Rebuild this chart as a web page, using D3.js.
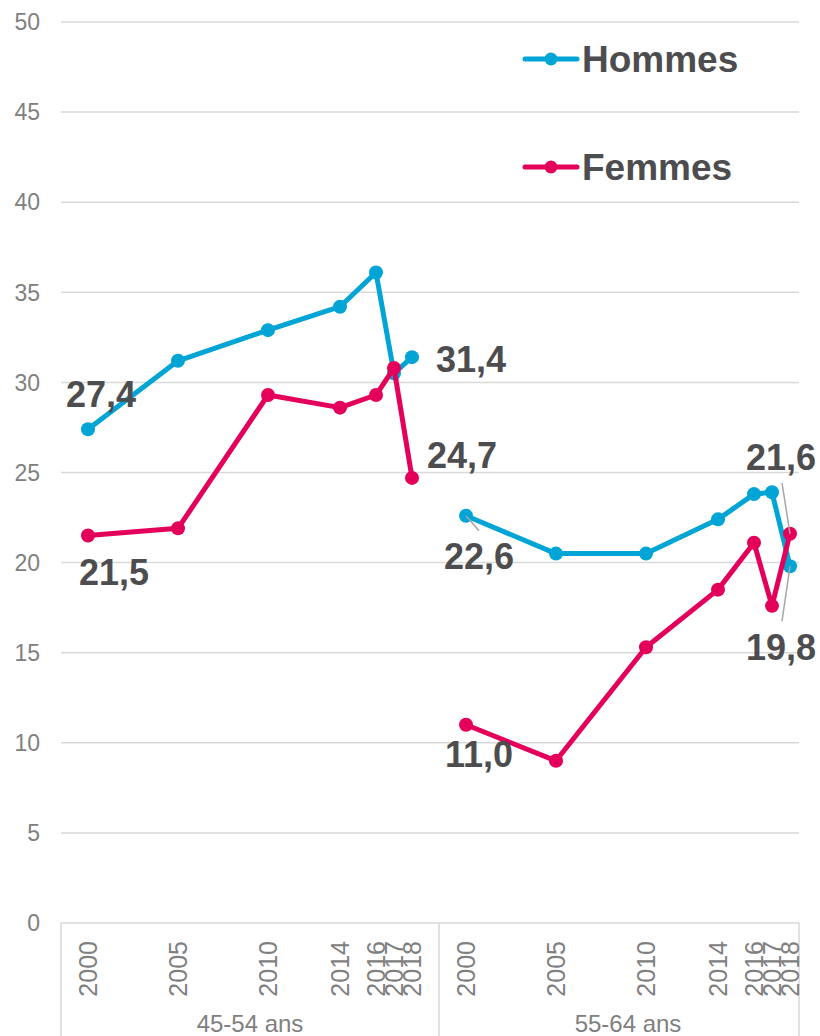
<!DOCTYPE html>
<html>
<head>
<meta charset="utf-8">
<script src="https://cdn.jsdelivr.net/npm/d3@7"></script>
<style>
  body { margin: 0; background: #fff; }
  text { font-family: "Liberation Sans", Arial, sans-serif; }
</style>
</head>
<body>
<div id="chart"></div>
<script>
// data
var years = [2000, 2005, 2010, 2014, 2016, 2017, 2018];
var groups = ["45-54 ans", "55-64 ans"];
var hommes4554 = [27.4, 31.2, 32.9, 34.2, 36.1, 30.5, 31.4];
var femmes4554 = [21.5, 21.9, 29.3, 28.6, 29.3, 30.8, 24.7];
var hommes5564 = [22.6, 20.5, 20.5, 22.4, 23.8, 23.9, 19.8];
var femmes5564 = [11.0, 9.0, 15.3, 18.5, 21.1, 17.6, 21.6];
var yTicks = [0, 5, 10, 15, 20, 25, 30, 35, 40, 45, 50];

var blue = "#00a5d6", pink = "#e4005a", grid = "#d9d9d9", txt = "#808080", dark = "#4d4d4f";

var width = 820, height = 1036;

var svg = d3.select("#chart")
  .append("svg")
    .attr("width", width)
    .attr("height", height);

// x: each group takes 21 "year slots", years are placed by their value
var pos = function(g, yr) { return g * 21 + (yr - 2000); };
var x = d3.scaleLinear()
  .domain([-1.5, 39.5])
  .range([61, 799]);

var y = d3.scaleLinear()
  .domain([0, 50])
  .range([923, 22]);

// gridlines + y labels
svg.append("g")
  .selectAll("line")
  .data(yTicks.filter(function(d) { return d > 0; }))
  .enter().append("line")
    .attr("x1", x(-1.5))
    .attr("x2", x(39.5))
    .attr("y1", function(d) { return y(d); })
    .attr("y2", function(d) { return y(d); })
    .attr("stroke", grid)
    .attr("stroke-width", 1.5);

svg.append("g")
  .selectAll("text")
  .data(yTicks)
  .enter().append("text")
    .attr("x", 40)
    .attr("y", function(d) { return y(d); })
    .attr("dy", "0.36em")
    .attr("text-anchor", "end")
    .attr("font-size", 23)
    .attr("fill", txt)
    .text(function(d) { return d; });

// x axis line and group separators
svg.append("line")
  .attr("x1", x(-1.5)).attr("x2", x(39.5))
  .attr("y1", y(0)).attr("y2", y(0))
  .attr("stroke", grid).attr("stroke-width", 1.5);

svg.append("g")
  .selectAll("line")
  .data([-1.5, 19.5, 39.5])
  .enter().append("line")
    .attr("x1", function(d) { return x(d); })
    .attr("x2", function(d) { return x(d); })
    .attr("y1", y(0))
    .attr("y2", height)
    .attr("stroke", grid)
    .attr("stroke-width", 1.5);

// year labels (rotated) and group labels
groups.forEach(function(grp, g) {
  svg.append("g")
    .selectAll("text")
    .data(years)
    .enter().append("text")
      .attr("transform", function(d) { return "translate(" + x(pos(g, d)) + ",941) rotate(-90)"; })
      .attr("dy", "0.36em")
      .attr("text-anchor", "end")
      .attr("font-size", 25)
      .attr("fill", txt)
      .text(function(d) { return d; });

  svg.append("text")
    .attr("x", (x(g * 21 - 1.5) + x(g * 21 + 19.5)) / 2)
    .attr("y", 1032)
    .attr("text-anchor", "middle")
    .attr("font-size", 24)
    .attr("fill", txt)
    .text(grp);
});

// series
var series = [
  {g: 0, vals: hommes4554, color: blue},
  {g: 1, vals: hommes5564, color: blue},
  {g: 0, vals: femmes4554, color: pink},
  {g: 1, vals: femmes5564, color: pink}
];

var line = d3.line()
  .x(function(d) { return x(d.p); })
  .y(function(d) { return y(d.v); });

series.forEach(function(s) {
  var pts = years.map(function(yr, i) { return {p: pos(s.g, yr), v: s.vals[i]}; });
  svg.append("path")
    .datum(pts)
    .attr("fill", "none")
    .attr("stroke", s.color)
    .attr("stroke-width", 5)
    .attr("stroke-linejoin", "round")
    .attr("d", line);
  svg.append("g")
    .selectAll("circle")
    .data(pts)
    .enter().append("circle")
      .attr("cx", function(d) { return x(d.p); })
      .attr("cy", function(d) { return y(d.v); })
      .attr("r", 7)
      .attr("fill", s.color);
});

// data labels: first and last point of each series, offset from the dot
var labels = [
  {g: 0, vals: hommes4554, i: 0, dx: -22, dy: -22},
  {g: 0, vals: femmes4554, i: 0, dx: -9, dy: 49},
  {g: 0, vals: hommes4554, i: 6, dx: 24, dy: 15},
  {g: 0, vals: femmes4554, i: 6, dx: 15, dy: -10},
  {g: 1, vals: hommes5564, i: 0, dx: -22, dy: 53, lead: [13, 15]},
  {g: 1, vals: femmes5564, i: 0, dx: -21, dy: 42},
  {g: 1, vals: hommes5564, i: 6, dx: -44, dy: 94, lead: [-8, 55]},
  {g: 1, vals: femmes5564, i: 6, dx: -44, dy: -64, lead: [-8, -51]}
];

var fmt = function(v) { return d3.format(".1f")(v).replace(".", ","); };

labels.forEach(function(l) {
  var cx = x(pos(l.g, years[l.i])), cy = y(l.vals[l.i]);
  if (l.lead) {
    svg.append("line")
      .attr("x1", cx).attr("y1", cy)
      .attr("x2", cx + l.lead[0]).attr("y2", cy + l.lead[1])
      .attr("stroke", "#a6a6a6")
      .attr("stroke-width", 1.5);
  }
  svg.append("text")
    .attr("x", cx + l.dx)
    .attr("y", cy + l.dy)
    .attr("font-size", 36)
    .attr("font-weight", "bold")
    .attr("fill", dark)
    .text(fmt(l.vals[l.i]));
});

// legend
var legend = [{name: "Hommes", color: blue, y: 59}, {name: "Femmes", color: pink, y: 167}];
legend.forEach(function(d) {
  svg.append("line")
    .attr("x1", 525).attr("x2", 577)
    .attr("y1", d.y).attr("y2", d.y)
    .attr("stroke", d.color)
    .attr("stroke-width", 5)
    .attr("stroke-linecap", "round");
  svg.append("circle")
    .attr("cx", 551).attr("cy", d.y)
    .attr("r", 6.5)
    .attr("fill", d.color);
  svg.append("text")
    .attr("x", 582)
    .attr("y", d.y + 13)
    .attr("font-size", 37)
    .attr("font-weight", "bold")
    .attr("fill", dark)
    .text(d.name);
});
</script>
</body>
</html>
